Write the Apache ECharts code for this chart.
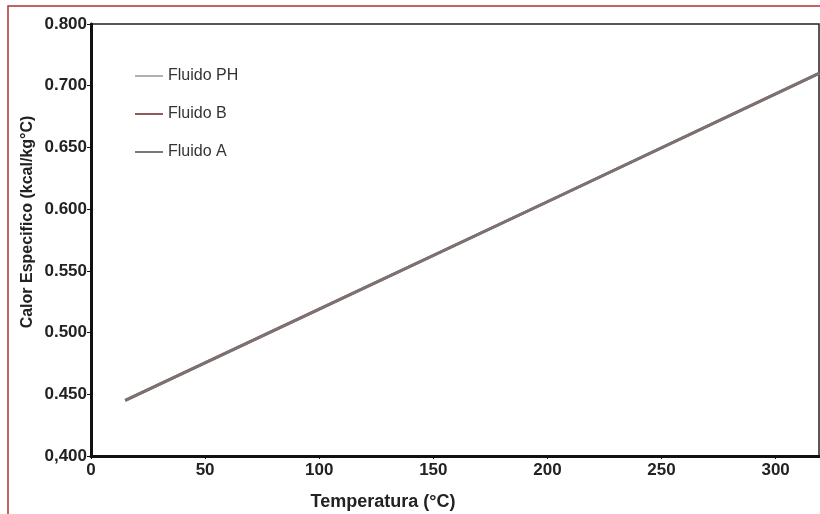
<!DOCTYPE html>
<html>
<head>
<meta charset="utf-8">
<script src="https://cdn.jsdelivr.net/npm/echarts@6/dist/echarts.min.js"></script>
<style>
    html,body{margin:0;padding:0;background:#fff;}
    #chart{width:820px;height:514px;}
</style>
</head>
<body>
<div id="chart"></div>
<script>
    // temperatura (°C)
    const temps = [15, 100, 200, 319]
    // calor especifico (kcal/kg°C)
    const fluidoPH = [0.445, 0.519, 0.606, 0.710]
    const fluidoB = [0.445, 0.519, 0.606, 0.710]
    const fluidoA = [0.445, 0.519, 0.606, 0.710]
    const seriesNames = ['Fluido PH', 'Fluido B', 'Fluido A']

    const toPairs = arr => temps.map((t, i) => [t, arr[i]])

    let chartInstance = echarts.init(document.getElementById('chart'))

    const labelFont = {
        fontFamily:'Liberation Sans',
        fontWeight:'bold',
        fontSize:17,
        color:'#222'
    }

    const option = {
        animation:false,
        grid:{
            left:91,
            right:1,
            top:24,
            bottom:58,
            show:true,
            borderColor:'#222',
            borderWidth:1.5
        },
        legend:{
            orient:'vertical',
            left:130,
            top:63,
            itemWidth:28,
            itemHeight:16,
            itemGap:22,
            icon:'path://M0,7 L28,7 L28,9 L0,9 Z',
            data:seriesNames,
            textStyle:{
                fontFamily:'Liberation Sans',
                fontSize:16,
                color:'#333'
            }
        },
        xAxis:{
            type:'value',
            min:0,
            max:319,
            interval:50,
            splitLine:{show:false},
            axisLine:{lineStyle:{color:'#111',width:3}},
            axisTick:{show:true,length:3,lineStyle:{color:'#111'}},
            axisLabel:Object.assign({margin:6,showMaxLabel:false}, labelFont)
        },
        yAxis:{
            type:'value',
            min:0.4,
            max:0.75,
            interval:0.05,
            splitLine:{show:false},
            axisLine:{show:true,lineStyle:{color:'#111',width:3}},
            axisTick:{show:true,length:4,lineStyle:{color:'#111'}},
            axisLabel:Object.assign({
                margin:4,
                formatter:(v) => {
                    if(v <= 0.4001) return '0,400'
                    if(v >= 0.7499) return '0.800'
                    return v.toFixed(3)
                }
            }, labelFont)
        },
        series:[
            {
                name:seriesNames[0],
                type:'line',
                showSymbol:false,
                data:toPairs(fluidoPH),
                lineStyle:{color:'#b0b0b0',width:3},
                itemStyle:{color:'#b0b0b0'}
            },
            {
                name:seriesNames[1],
                type:'line',
                showSymbol:false,
                data:toPairs(fluidoB),
                lineStyle:{color:'#8e5a5a',width:3},
                itemStyle:{color:'#8e5a5a'}
            },
            {
                name:seriesNames[2],
                type:'line',
                showSymbol:false,
                data:toPairs(fluidoA),
                lineStyle:{color:'#777777',width:2.5,opacity:0.9},
                itemStyle:{color:'#777777'}
            }
        ],
        graphic:[
            {
                type:'polyline',
                shape:{points:[[8,514],[8,6],[820,6]]},
                style:{stroke:'#b03232',lineWidth:1.5,fill:null}
            },
            {
                type:'text',
                x:383,
                y:502,
                style:{
                    text:'Temperatura (°C)',
                    font:'bold 18px "Liberation Sans"',
                    fill:'#222',
                    textAlign:'center',
                    textVerticalAlign:'middle'
                }
            },
            {
                type:'text',
                x:28,
                y:222,
                rotation:Math.PI / 2,
                style:{
                    text:'Calor Especifico (kcal/kg°C)',
                    font:'bold 16px "Liberation Sans"',
                    fill:'#222',
                    textAlign:'center',
                    textVerticalAlign:'middle'
                }
            }
        ]
    }
    chartInstance.setOption(option)
</script>
</body>
</html>
